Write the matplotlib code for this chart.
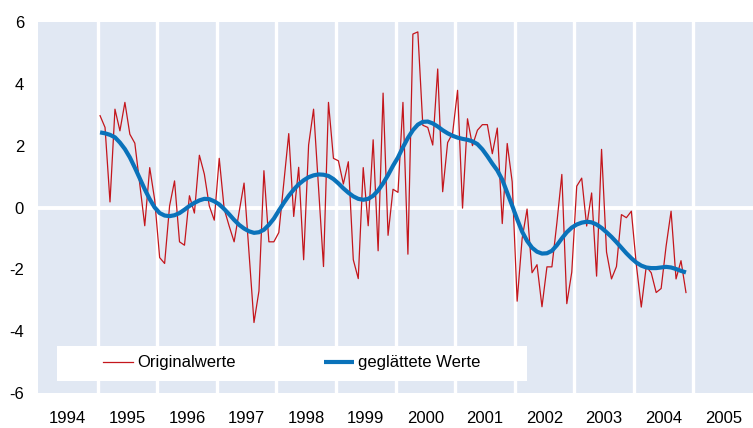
#!/usr/bin/env python3
"""Original monthly values vs. smoothed series, 1995-2004."""
import matplotlib
matplotlib.use("Agg")
import matplotlib.pyplot as plt  # noqa: E402
from matplotlib.patches import Rectangle  # noqa: E402

plt.rcParams["font.family"] = ["Liberation Sans", "DejaVu Sans"]
plt.rcParams["axes.unicode_minus"] = False

START_YEAR = 1995

# monthly original values, Jan 1995 .. Nov 2004
original = [
    2.97, 2.59, 0.18, 3.18, 2.48, 3.40, 2.37, 2.08, 0.75, -0.59, 1.29, 0.25,    # 1995
    -1.62, -1.81, 0.05, 0.86, -1.11, -1.22, 0.38, -0.18, 1.69, 1.08, 0.05, -0.41,  # 1996
    1.59, -0.05, -0.60, -1.11, -0.15, 0.79, -1.47, -3.72, -2.70, 1.19, -1.11, -1.11,  # 1997
    -0.81, 0.79, 2.39, -0.29, 1.30, -1.69, 2.02, 3.18, 0.64, -1.91, 3.40, 1.59,  # 1998
    1.51, 0.76, 1.48, -1.69, -2.30, 1.29, -0.59, 2.19, -1.40, 3.70, -0.90, 0.59,  # 1999
    0.49, 3.40, -1.51, 5.61, 5.68, 2.66, 2.59, 2.02, 4.48, 0.51, 2.10, 2.40,  # 2000
    3.79, -0.02, 2.87, 2.00, 2.50, 2.68, 2.68, 1.74, 2.57, -0.52, 2.07, 0.83,  # 2001
    -3.03, -1.01, -0.05, -2.11, -1.85, -3.21, -1.92, -1.92, -0.50, 1.07, -3.11, -2.09,  # 2002
    0.69, 0.95, -0.60, 0.47, -2.22, 1.88, -1.44, -2.31, -1.91, -0.23, -0.33, -0.12,  # 2003
    -1.85, -3.22, -1.91, -2.11, -2.75, -2.62, -1.25, -0.12, -2.31, -1.72, -2.75,  # 2004
]

# smoothed values, same months
smoothed = [
    2.43, 2.40, 2.35, 2.27, 2.10, 1.89, 1.62, 1.29, 0.94, 0.59, 0.27, 0.00,
    -0.18, -0.26, -0.28, -0.25, -0.18, -0.07, 0.05, 0.15, 0.23, 0.28, 0.27, 0.20,
    0.10, -0.05, -0.22, -0.40, -0.56, -0.68, -0.77, -0.82, -0.80, -0.72, -0.56, -0.36,
    -0.10, 0.15, 0.38, 0.58, 0.75, 0.88, 0.98, 1.04, 1.07, 1.06, 1.02, 0.92,
    0.78, 0.62, 0.48, 0.36, 0.28, 0.25, 0.28, 0.38, 0.55, 0.78, 1.05, 1.35,
    1.62, 1.95, 2.25, 2.50, 2.68, 2.77, 2.78, 2.72, 2.62, 2.50, 2.40, 2.32,
    2.26, 2.22, 2.19, 2.14, 2.05, 1.88, 1.66, 1.42, 1.20, 0.90, 0.48, 0.06,
    -0.38, -0.78, -1.08, -1.30, -1.43, -1.49, -1.48, -1.40, -1.22, -1.00, -0.80, -0.65,
    -0.55, -0.49, -0.46, -0.48, -0.55, -0.66, -0.80, -0.95, -1.12, -1.30, -1.48, -1.64,
    -1.78, -1.88, -1.94, -1.96, -1.96, -1.94, -1.92, -1.94, -1.99, -2.05, -2.10,
]

year_labels = [str(y) for y in range(1994, 2006)]
y_ticks = [-6, -4, -2, 0, 2, 4, 6]

RED = "#c4161c"
BLUE = "#0a72ba"
BG = "#e1e8f3"


def main():
    months = [START_YEAR + (i + 0.5) / 12 for i in range(len(original))]

    fig = plt.figure(figsize=(7.53, 4.28), dpi=100)
    ax = fig.add_axes([38 / 753, 35 / 428, 715 / 753, 371 / 428])
    ax.set_facecolor(BG)
    for s in ax.spines.values():
        s.set_visible(False)

    # year separators and the zero line
    for y in range(1995, 2006):
        ax.axvline(y, color="white", lw=2.4, zorder=1)
    ax.axhline(0, color="white", lw=2.8, zorder=1)

    ax.plot(months, original, color=RED, lw=0.9, zorder=2,
            label="Originalwerte")
    ax.plot(months, smoothed, color=BLUE, lw=3.0, zorder=2,
            solid_capstyle="butt", label="geglättete Werte")

    ax.set_xlim(1994, 2006)
    ax.set_ylim(-6, 6)
    ax.set_yticks(y_ticks)
    ax.set_yticklabels([str(v) for v in y_ticks])
    ax.set_xticks([int(t) + 0.5 for t in year_labels])
    ax.set_xticklabels(year_labels)
    ax.tick_params(axis="both", length=0, labelsize=12)
    ax.tick_params(axis="y", pad=10)
    ax.tick_params(axis="x", pad=13)

    # white legend panel
    ax.add_patch(Rectangle((19 / 715, 12 / 371), 470 / 715, 35 / 371,
                           transform=ax.transAxes, facecolor="white",
                           edgecolor="none", zorder=3))
    ax.legend(loc="center left", bbox_to_anchor=(65 / 715, 30 / 371),
              ncol=2, frameon=False, fontsize=12, borderpad=0,
              borderaxespad=0, handlelength=1.8, handletextpad=0.25,
              columnspacing=5.3).set_zorder(4)

    fig.savefig("out.png")
    plt.close(fig)


if __name__ == "__main__":
    main()
